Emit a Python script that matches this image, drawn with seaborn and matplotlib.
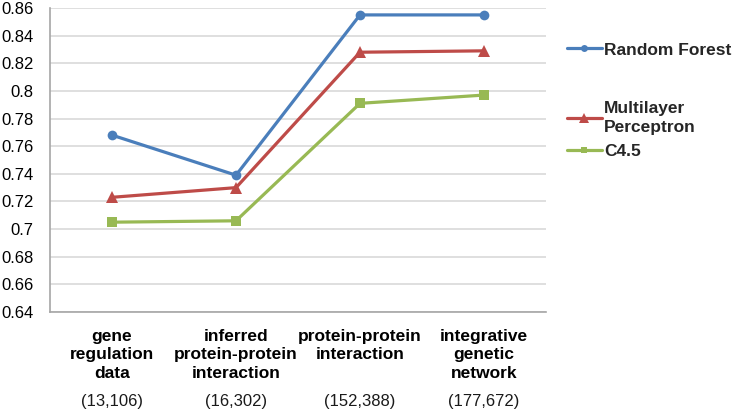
import matplotlib
matplotlib.use("Agg")
import matplotlib.pyplot as plt
import seaborn as sns
import pandas as pd

categories = ["gene\nregulation\ndata", "inferred\nprotein-protein\ninteraction",
              "protein-protein\ninteraction", "integrative\ngenetic\nnetwork"]
sizes = ["(13,106)", "(16,302)", "(152,388)", "(177,672)"]
series_names = ["Random Forest", "Multilayer\nPerceptron", "C4.5"]
random_forest = [0.768, 0.739, 0.855, 0.855]
mlp = [0.723, 0.730, 0.828, 0.829]
c45 = [0.705, 0.706, 0.791, 0.797]
yticks = [0.64, 0.66, 0.68, 0.7, 0.72, 0.74, 0.76, 0.78, 0.8, 0.82, 0.84, 0.86]
ytick_labels = ["0.64", "0.66", "0.68", "0.7", "0.72", "0.74", "0.76", "0.78", "0.8", "0.82", "0.84", "0.86"]

rows = []
for name, vals in zip(series_names, [random_forest, mlp, c45]):
    for i, v in enumerate(vals):
        rows.append({"pos": i, "value": v, "series": name})
df = pd.DataFrame(rows)

sns.set_theme(style="white")
plt.rcParams["font.family"] = ["Liberation Sans", "DejaVu Sans"]

colors = {series_names[0]: "#4A7EBB", series_names[1]: "#BE4B48", series_names[2]: "#98B954"}
markers = {series_names[0]: "o", series_names[1]: "^", series_names[2]: "s"}
msizes = {series_names[0]: 7, series_names[1]: 8.5, series_names[2]: 6.5}
leg_msizes = [5, 6.5, 5]

fig = plt.figure(figsize=(7.33, 4.12), dpi=100)
ax = fig.add_axes([50/733, 1-312/412, 496/733, 304/412])

for name in series_names:
    sub = df[df["series"] == name]
    sns.lineplot(data=sub, x="pos", y="value", ax=ax, color=colors[name],
                 marker=markers[name], markersize=msizes[name], markeredgewidth=0,
                 linewidth=2.3, label=name)

ax.set_xlim(-0.5, 3.5)
ax.set_ylim(0.64, 0.86)
ax.set_yticks(yticks)
ax.set_yticklabels(ytick_labels, fontsize=12, color="#000000")
ax.set_xticks(range(4))
ax.set_xticklabels(categories, fontsize=12.5, fontweight="bold", color="#000000",
                   linespacing=1.3)
ax.tick_params(axis="both", length=0)
ax.tick_params(axis="y", pad=12)
ax.tick_params(axis="x", pad=12)
ax.set_xlabel("")
ax.set_ylabel("")
ax.grid(axis="y", color="#D9D9D9", linewidth=1.2)
ax.grid(axis="x", visible=False)
ax.set_axisbelow(True)
for s in ["top", "right"]:
    ax.spines[s].set_visible(False)
for s in ["left", "bottom"]:
    ax.spines[s].set_color("#A6A6A6")
    ax.spines[s].set_linewidth(1.2)

for i, s in enumerate(sizes):
    ax.text(i, -0.296, s, transform=ax.get_xaxis_transform(), ha="center", va="center",
            fontsize=12, color="#1a1a1a")

handles, labels = ax.get_legend_handles_labels()
if ax.get_legend():
    ax.get_legend().remove()
common = dict(frameon=False, prop={"weight": "bold", "size": 12.5}, handlelength=2.0,
              handletextpad=0.15, borderaxespad=0, bbox_transform=fig.transFigure)
leg1 = ax.legend(handles[:1], labels[:1], loc="center left",
                 bbox_to_anchor=(560/733, 1-50/412), **common)
ax.add_artist(leg1)
leg2 = ax.legend(handles[1:], labels[1:], loc="center left",
                 bbox_to_anchor=(560/733, 1-130/412), labelspacing=0.5, **common)
for lg, ms in zip([leg1, leg2], [leg_msizes[:1], leg_msizes[1:]]):
    for h, m in zip(lg.legend_handles, ms):
        h.set_markersize(m)
    for t in lg.get_texts():
        t.set_linespacing(1.3)

fig.savefig("out.png", dpi=100)
